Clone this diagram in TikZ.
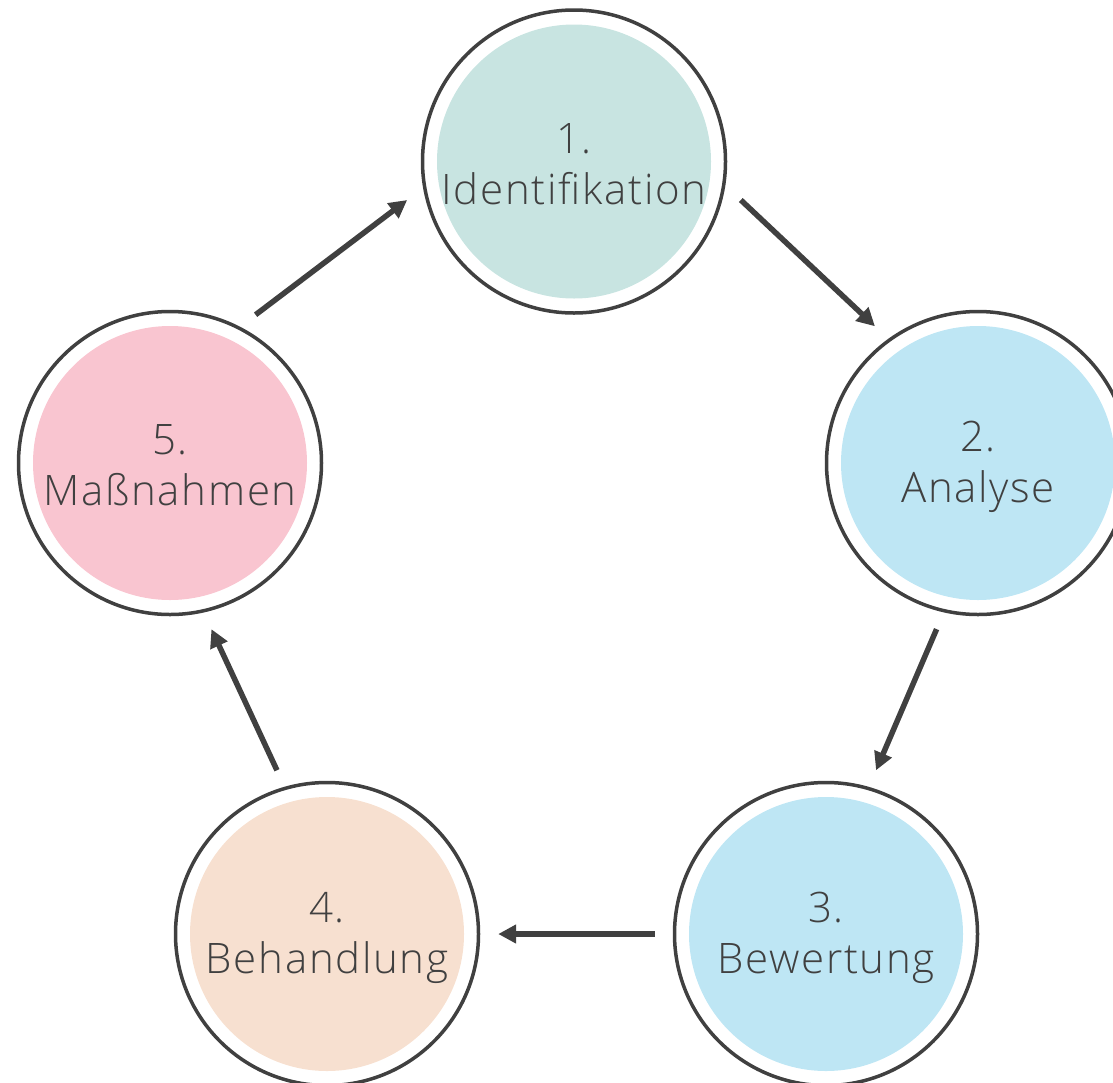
\documentclass[tikz,border=0pt]{standalone}
\usepackage{fontspec}
\setmainfont{Open Sans Light}[LetterSpace=4]
\usetikzlibrary{arrows.meta, positioning}
\definecolor{ringgray}{RGB}{64,64,64}
\definecolor{stepteal}{RGB}{200,228,225}
\definecolor{stepblue}{RGB}{190,230,244}
\definecolor{steppeach}{RGB}{247,224,208}
\definecolor{steppink}{RGB}{249,197,208}
\newcommand{\stepstrut}{\rule[-5pt]{0pt}{44pt}}
\tikzset{stepnode/.style={circle, draw=none, minimum size=342pt, inner sep=0pt,
    align=center, text=ringgray, font=\fontsize{42}{51}\selectfont,
    path picture={
      \fill[#1] (path picture bounding box.center) circle (137pt);
      \draw[ringgray, line width=3.5pt] (path picture bounding box.center) circle (151.5pt);}},
  steparrow/.style={ringgray, line width=5.5pt, -{Triangle[length=18pt, width=18pt]}}}

\begin{document}
\begin{tikzpicture}[x=1pt, y=-1pt]
    \useasboundingbox (0,0) rectangle (1113,1082);
    % Steps
    \foreach \name/\x/\y/\col/\txt in {
        c1/574/161.5/stepteal/{1.\\Identifikation},
        c2/978/463/stepblue/{2.\\Analyse},
        c3/826/934/stepblue/{3.\\Bewertung},
        c4/327/934/steppeach/{4.\\Behandlung},
        c5/170/463/steppink/{5.\\Maßnahmen}} {
        \node[stepnode=\col] (\name) at (\x, \y) {\stepstrut\txt\stepstrut};
    }
    % Arrows
    \draw[steparrow] (c1.-13) -- (c2.127);
    \draw[steparrow] (c2.256) -- (c3.73);
    \draw[steparrow] (c3.180) -- (c4.0);
    \draw[steparrow] (c4.107) -- (c5.-76);
    \draw[steparrow] (c5.60) -- (c1.193);
\end{tikzpicture}
\end{document}
